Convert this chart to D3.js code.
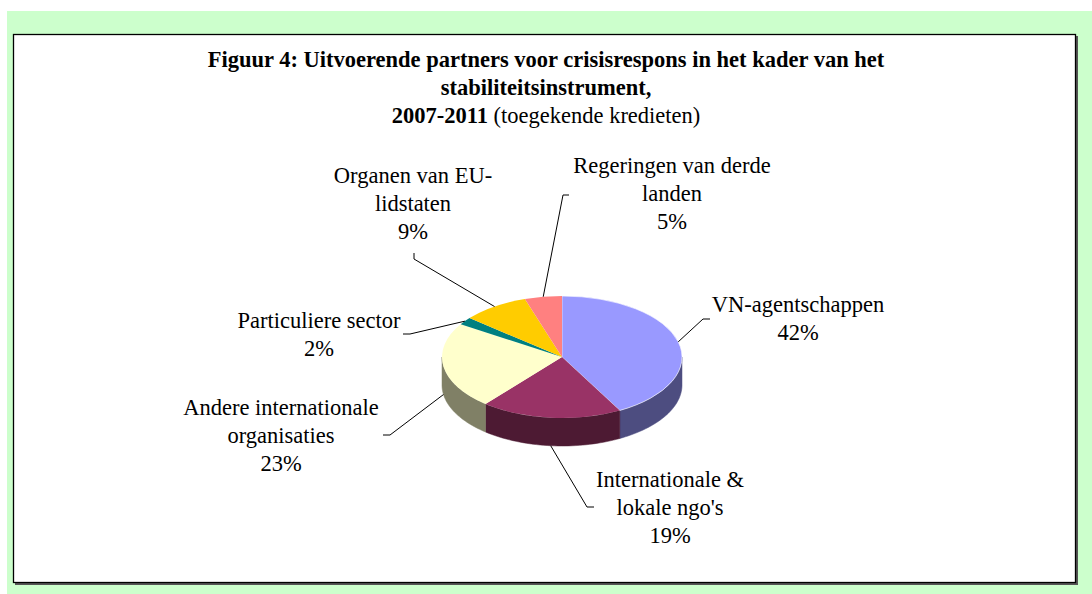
<!DOCTYPE html>
<html>
<head>
<meta charset="utf-8">
<script src="https://cdn.jsdelivr.net/npm/d3@7"></script>
<style>
  body { margin: 0; background: #fff; }
  svg text { font-family: "Liberation Serif", "Times New Roman", serif; fill: #000; }
</style>
</head>
<body>
<div id="chart"></div>
<script>
// data
var categories = [
  ["VN-agentschappen"],
  ["Internationale &", "lokale ngo's"],
  ["Andere internationale", "organisaties"],
  ["Particuliere sector"],
  ["Organen van EU-", "lidstaten"],
  ["Regeringen van derde", "landen"]
];
var values = [42, 19, 23, 2, 9, 5];
var topColors  = ["#9999ff", "#993366", "#ffffcc", "#008080", "#ffcc00", "#ff8080"];
var sideColors = ["#4d4d80", "#4d1a33", "#808066", "#004040", "#806600", "#804040"];
var titleLines = ["Figuur 4: Uitvoerende partners voor crisisrespons in het kader van het",
                  "stabiliteitsinstrument,"];
var titleBold = "2007-2011";
var titleRest = " (toegekende kredieten)";

// layout (relative to the pie centre)
var labelPos = [[236, -45], [108, 130], [-281, 58], [-243, -29], [-149, -174], [110, -184]];
var elbowPos = [
  [[141, -38], [148, -38]],
  [[25, 150], [32, 150]],
  [[-172, 78], [-179, 78]],
  [[-152, -23], [-159, -23]],
  [[-148, -98], [-148, -104]],
  [[1, -162], [7, -162]]
];

var W = 1092, H = 594;
var cx = 562, cy = 357, rx = 120, ry = 61, depth = 28;
var fs = 22.5, lh = 28;

var svg = d3.select("#chart").append("svg")
    .attr("width", W).attr("height", H);

// background frame
svg.append("rect").attr("x", 7).attr("y", 11).attr("width", W - 7).attr("height", H - 11)
    .attr("fill", "#ccffcc");
svg.append("rect").attr("x", 15).attr("y", 36).attr("width", 1063).attr("height", 549)
    .attr("fill", "#555");
svg.append("rect").attr("x", 13.5).attr("y", 34.5).attr("width", 1062).attr("height", 548)
    .attr("fill", "#fff").attr("stroke", "#000").attr("stroke-width", 1.3);

// title
var title = svg.append("text").attr("text-anchor", "middle")
    .style("font-size", fs + "px");
titleLines.forEach(function(t, i) {
  title.append("tspan").attr("x", 546).attr("y", 67 + i * lh)
      .style("font-weight", "bold").text(t);
});
var t3 = title.append("tspan").attr("x", 546).attr("y", 67 + 2 * lh);
t3.append("tspan").style("font-weight", "bold").text(titleBold);
t3.append("tspan").text(titleRest);

// pie
var pie = d3.pie().sort(null).value(function(d) { return d; });
var arcs = pie(values);

var sx = d3.scaleLinear().domain([-1, 1]).range([cx - rx, cx + rx]);
var sy = d3.scaleLinear().domain([-1, 1]).range([cy - ry, cy + ry]);
function px(a) { return sx(Math.sin(a)); }
function py(a) { return sy(-Math.cos(a)); }

var line = d3.line();
var g = svg.append("g");

// side walls (front half only)
arcs.forEach(function(a, i) {
  var t0 = Math.max(a.startAngle, Math.PI / 2);
  var t1 = Math.min(a.endAngle, Math.PI * 1.5);
  if (t1 <= t0) return;
  var steps = d3.range(0, 41).map(function(k) { return t0 + (t1 - t0) * k / 40; });
  var pts = steps.map(function(t) { return [px(t), py(t)]; });
  var bot = steps.slice().reverse().map(function(t) { return [px(t), py(t) + depth]; });
  g.append("path")
      .attr("d", line(pts.concat(bot)) + "Z")
      .attr("fill", sideColors[i])
      .attr("stroke", sideColors[i]).attr("stroke-width", 0.5);
});

// top faces, d3.arc squashed into the ellipse
var arc = d3.arc().innerRadius(0).outerRadius(rx);
g.append("g")
    .attr("transform", "translate(" + cx + "," + cy + ") scale(1," + (ry / rx) + ")")
  .selectAll("path").data(arcs).join("path")
    .attr("d", arc)
    .attr("fill", function(d, i) { return topColors[i]; })
    .attr("stroke", function(d, i) { return i == 0 ? "#fff" : "none"; })
    .attr("stroke-width", 0.8);

// leader lines
arcs.forEach(function(a, i) {
  var m = (a.startAngle + a.endAngle) / 2;
  var x0 = px(m), y0 = py(m);
  if (Math.cos(m) < 0) y0 += depth;
  var e = elbowPos[i];
  svg.append("path")
      .attr("d", line([[x0, y0], [cx + e[0][0], cy + e[0][1]], [cx + e[1][0], cy + e[1][1]]]))
      .attr("fill", "none").attr("stroke", "#000").attr("stroke-width", 1);
});

// labels
arcs.forEach(function(a, i) {
  var lines = categories[i].concat([values[i] + "%"]);
  var t = svg.append("text").attr("text-anchor", "middle")
      .style("font-size", fs + "px");
  lines.forEach(function(s, k) {
    t.append("tspan")
        .attr("x", cx + labelPos[i][0])
        .attr("y", cy + labelPos[i][1] + k * lh)
        .text(s);
  });
});
</script>
</body>
</html>
